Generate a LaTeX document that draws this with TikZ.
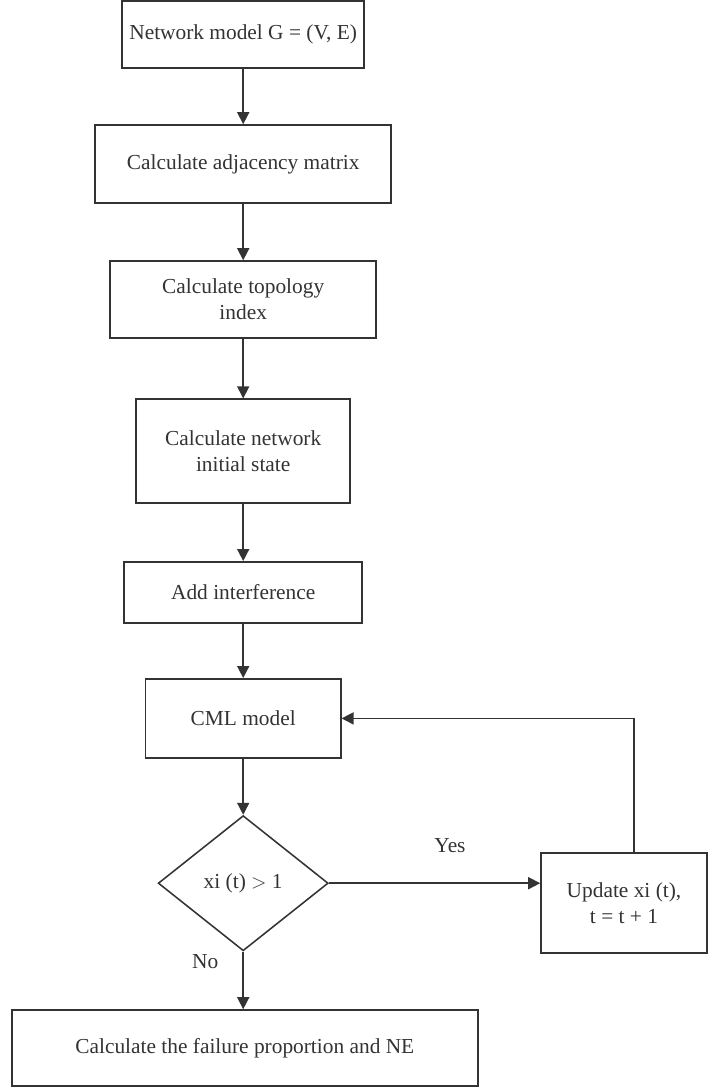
\documentclass[tikz,border=0pt]{standalone}
\usepackage{fontspec}
\setmainfont{Liberation Serif}
\usetikzlibrary{shapes.geometric, arrows.meta}

\begin{document}
\begin{tikzpicture}[
  box/.style = {
    shape = rectangle,
    draw = black!80,
    align = center,
    inner sep = 0pt,
    font = \fontsize{15.2}{18.5}\selectfont,
  },
  test/.style = {
    shape = diamond,
    draw = black!80,
    inner sep = 0pt,
    font = \fontsize{15.2}{18.5}\selectfont,
  },
  arrow/.style = {
    -{Triangle[length = 0.3cm, width = 0.3cm]}
  },
  every path/.style = {
    line width = 1.1pt,
    color = black!80
  }
]
  \useasboundingbox (0, 0) rectangle (18, -27.2);

  \draw node[box, minimum width = 6.05cm, minimum height = 1.68cm] (model) at (6.08, -0.86) {Network model G = (V, E)};
  \draw node[box, minimum width = 7.4cm, minimum height = 1.95cm] (adjacency) at (6.08, -4.1) {Calculate adjacency matrix};
  \draw node[box, minimum width = 6.65cm, minimum height = 1.93cm] (topology) at (6.08, -7.49) {Calculate topology\\index};
  \draw node[box, minimum width = 5.35cm, minimum height = 2.6cm] (initial) at (6.08, -11.28) {Calculate network\\initial state};
  \draw node[box, minimum width = 5.95cm, minimum height = 1.53cm] (interference) at (6.08, -14.81) {Add interference};
  \draw node[box, minimum width = 4.88cm, minimum height = 1.98cm] (cml) at (6.08, -17.96) {CML model};

  \draw node[test, minimum width = 4.25cm, minimum height = 3.38cm] (check) at (6.08, -22.08) {xi (t) \(>\) 1};
  \draw node[box, minimum width = 4.15cm, minimum height = 2.5cm] (update) at (15.6, -22.58) {Update xi (t),\\t = t + 1};
  \draw node[box, minimum width = 11.65cm, minimum height = 1.9cm] (failure) at (6.12, -26.2) {Calculate the failure proportion and NE};

  \draw[arrow] (model) -- (adjacency);
  \draw[arrow] (adjacency) -- (topology);
  \draw[arrow] (topology) -- (initial);
  \draw[arrow] (initial) -- (interference);
  \draw[arrow] (interference) -- (cml);
  \draw[arrow] (cml) -- (check);
  \draw[arrow] (check.east) -- (update.west |- check.east);
  \draw[arrow] (check.south) -- (check.south |- failure.north);
  \draw[arrow] ([xshift = 0.25cm]update.north) |- (cml.east);

  \draw node[font = \fontsize{15.2}{18.5}\selectfont] (yes) at (11.25, -21.13) {Yes};
  \draw node[font = \fontsize{15.2}{18.5}\selectfont] (no) at (5.13, -24.05) {No};
\end{tikzpicture}
\end{document}
